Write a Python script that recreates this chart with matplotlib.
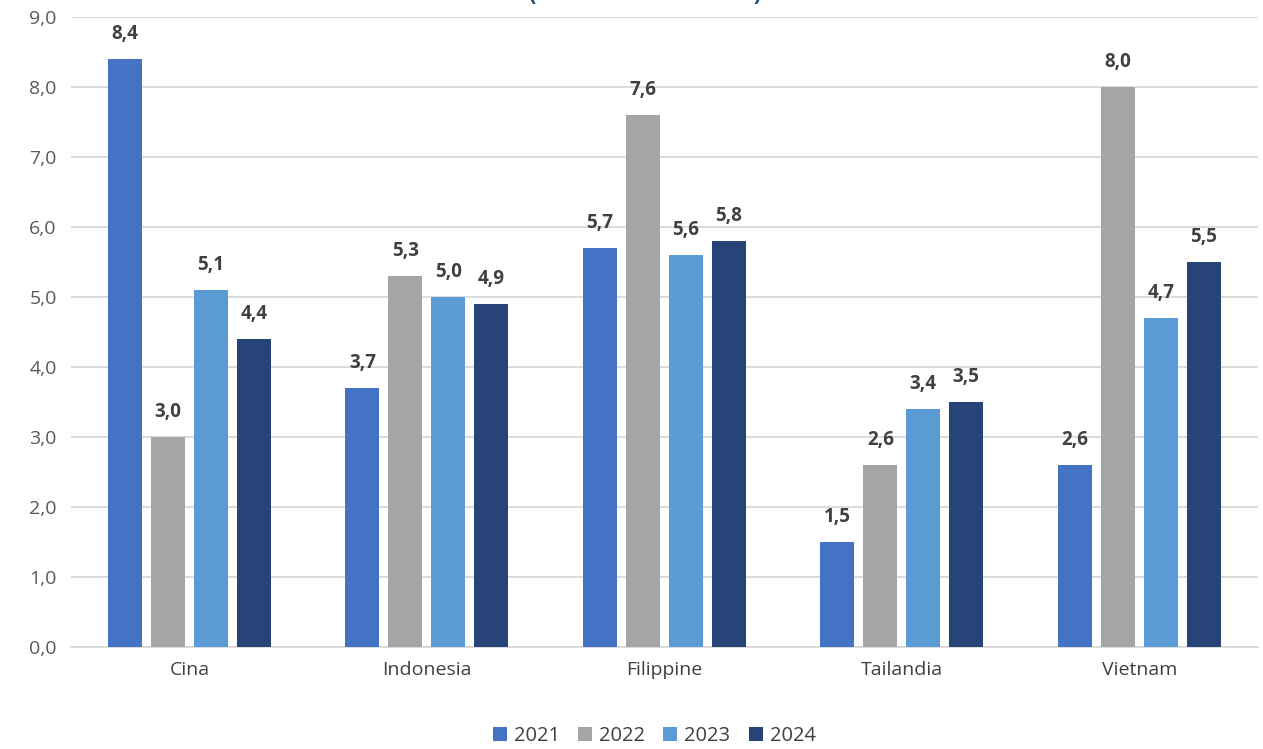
import matplotlib.pyplot as plt
import numpy as np

paesi = ["Cina", "Indonesia", "Filippine", "Tailandia", "Vietnam"]
anni = ["2021", "2022", "2023", "2024"]
v2021 = [8.4, 3.7, 5.7, 1.5, 2.6]
v2022 = [3.0, 5.3, 7.6, 2.6, 8.0]
v2023 = [5.1, 5.0, 5.6, 3.4, 4.7]
v2024 = [4.4, 4.9, 5.8, 3.5, 5.5]
colori = ["#4472C4", "#A5A5A5", "#5B9BD5", "#264478"]

plt.rcParams['font.family'] = ['Open Sans', 'DejaVu Sans']

fig = plt.figure(figsize=(12.63, 7.49), dpi=100)
ax = fig.add_axes([0.056, 0.136, 0.94, 0.841])

x = np.arange(len(paesi))
passo = 0.181
larg = 0.143
serie = [v2021, v2022, v2023, v2024]
for i, (vals, col, anno) in enumerate(zip(serie, colori, anni)):
    pos = x + (i - 1.5) * passo
    ax.bar(pos, vals, width=larg, color=col, label=anno, zorder=3)
    for xb, v in zip(pos, vals):
        ax.text(xb, v + 0.22, f"{v:.1f}".replace(".", ","), ha='center', va='bottom',
                fontsize=13.5, fontweight='bold', color='#404040')

ax.set_xlim(-0.5, 4.5)
ax.set_ylim(0, 9)
ax.set_yticks(np.arange(0, 9.1, 1))
ax.set_yticklabels([f"{t:.1f}".replace(".", ",") for t in np.arange(0, 9.1, 1)],
                   fontsize=14, color='#595959')
ax.set_xticks(x)
ax.set_xticklabels(paesi, fontsize=14, color='#404040')
ax.tick_params(axis='both', length=0, pad=10)
ax.grid(axis='y', color='#D9D9D9', linewidth=1.3, zorder=0)
for s in ['top', 'right', 'left']:
    ax.spines[s].set_visible(False)
ax.spines['bottom'].set_color('#D9D9D9')
ax.spines['bottom'].set_linewidth(1.3)

fig.legend(loc='lower center', ncol=4, frameon=False, fontsize=14.5,
           bbox_to_anchor=(0.518, -0.02), handlelength=0.7, handleheight=0.7,
           handletextpad=0.35, columnspacing=0.9, labelcolor='#404040')

# titolo tagliato dal bordo superiore
fig.text(0.511, 0.993, "(variazione % annua)", ha='center', va='bottom',
         fontsize=16, fontweight='bold', color='#1F4E79')

fig.savefig("out.png", dpi=100)
